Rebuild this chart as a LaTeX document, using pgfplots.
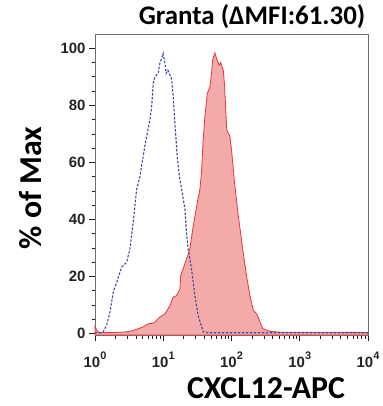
\documentclass[border=0pt]{standalone}
\usepackage{pgfplots}
\pgfplotsset{compat=1.18}
\usepackage{fontspec}
\setmainfont{Carlito}
\newfontfamily\tickfont{Liberation Sans}
\definecolor{framegray}{RGB}{110,110,110}
\definecolor{redline}{RGB}{232,52,52}
\definecolor{redfill}{RGB}{245,170,170}
\definecolor{blueline}{RGB}{55,75,165}
\definecolor{ticktxt}{RGB}{35,35,35}
\begin{document}
\begin{tikzpicture}
\begin{axis}[
  scale only axis, width=273bp, height=301bp,
  at={(0,0)}, anchor=south west,
  xmode=log, xmin=1, xmax=10000, ymin=-0.5, ymax=105,
  axis line style={framegray, line width=0.9bp},
  tick style={ticktxt, line width=0.7bp},
  tick align=outside,
  major tick length=6bp, minor tick length=3.5bp,
  xtick={1,10,100,1000,10000},
  xticklabels={10\raisebox{0.55em}{\fontsize{11}{11}\selectfont 0},
               10\raisebox{0.55em}{\fontsize{11}{11}\selectfont 1},
               10\raisebox{0.55em}{\fontsize{11}{11}\selectfont 2},
               10\raisebox{0.55em}{\fontsize{11}{11}\selectfont 3},
               10\raisebox{0.55em}{\fontsize{11}{11}\selectfont 4}},
  ytick={0,20,40,60,80,100},
  yticklabels={0,20,40,60,80,100},
  minor y tick num=3,
  xtick pos=bottom, ytick pos=left,
  tick label style={font=\tickfont\bfseries\fontsize{15}{15}\selectfont, text=ticktxt},
  xticklabel style={yshift=-7bp},
  clip=false,
]
\addplot[draw=redline, line width=0.8bp, fill=redfill] coordinates {
(1.0,-0.5) (1.0,2.6) (1.07,1.0) (1.15,0.4) (2.0,0.4) (2.88,0.6) (3.55,1.0) (4.31,1.7)
(5.01,2.3) (5.71,3.1) (6.31,3.6) (6.76,3.5) (7.41,3.9) (7.94,4.6) (8.91,5.8)
(10.0,6.5) (10.6,7.0) (11.5,8.3) (12.6,9.9) (14.0,12.8) (15.7,13.3) (17.6,15.7)
(18.0,20.3) (19.5,22.6) (21.9,26.1) (24.5,29.6) (27.5,37.7) (30.9,44.7)
(34.4,50.5) (36.3,56.3) (38.5,68) (40.7,76) (44.2,84.2) (48.3,86.5) (51.0,91.2)
(52.8,95.8) (57.1,98.4) (60.3,96.4) (66.1,94.1) (69.2,95) (75.9,92.3) (79.4,86.5)
(85.1,71.4) (94.8,69.1) (100,64.5) (112,51.7) (126,41.2) (148,28.5) (166,20.3)
(186,13.3) (209,8.1) (234,7.0) (261,4.1) (288,1.7) (363,0.8) (501,0.5) (10000,0.4) (10000,-0.5)
} -- cycle;
\addplot[draw=blueline, line width=1.1bp, dash pattern=on 2.4bp off 1.6bp] coordinates {
(1.0,0.3) (1.26,0.3) (1.32,0.6) (1.48,2.9) (1.66,7.6) (1.85,14.5) (2.08,18)
(2.45,23.2) (2.91,25) (3.24,29.6) (3.63,38.9) (4.07,50.5) (4.57,55.2) (4.79,58.6)
(5.37,65.6) (5.71,69.1) (6.38,74.9) (6.76,79.5) (7.14,87.7) (7.55,90.0) (8.45,91.2)
(8.91,94.7) (9.46,96.4) (9.95,98.2) (10.6,94.7) (11.0,91.2) (11.7,92.3) (13.2,89.4)
(14.0,83) (14.8,73.8) (15.3,69.1) (16.0,62.1) (17.2,55.2) (18.6,50.5) (20.8,43.5)
(21.9,35.4) (23.2,29.6) (26.0,22.6) (29.1,13.3) (32.4,6.4) (38.5,0.6) (44.7,0.3) (10000,0.3)
};
\end{axis}
\node[anchor=base, font=\bfseries\fontsize{27}{27}\selectfont] at (157bp,310bp) {Granta (ΔMFI:61.30)};
\node[anchor=base, font=\bfseries\fontsize{32}{32}\selectfont] at (171bp,-63bp) {CXCL12-APC};
\node[anchor=base, rotate=90, font=\bfseries\fontsize{32}{32}\selectfont] at (-53bp,147bp) {\% of Max};
\pgfresetboundingbox
\useasboundingbox (-95bp,-71bp) rectangle (288bp,335bp);
\end{tikzpicture}
\end{document}
